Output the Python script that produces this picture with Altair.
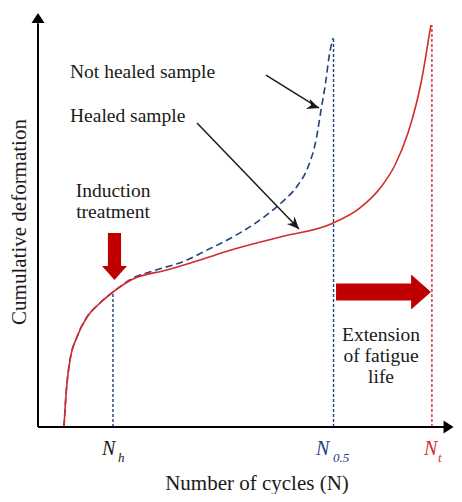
import altair as alt
import pandas as pd

# ---- data (x: number of cycles, y: cumulative deformation; schematic units 0-100) ----
healed_x = [6.13, 6.37, 6.60, 6.84, 7.55, 9.20, 11.56, 14.62, 17.69, 22.41, 30.42, 38.21,
            45.52, 57.08, 69.10, 75.94, 80.90, 84.20, 87.26, 89.15, 90.33, 91.51, 92.22, 92.69]
healed_y = [0.0, 4.11, 7.73, 10.63, 16.18, 21.74, 26.57, 29.95, 32.61, 35.75, 37.92, 40.34,
            42.75, 45.89, 49.03, 52.90, 57.97, 63.29, 71.01, 77.78, 83.09, 89.86, 94.44, 97.10]

not_healed_x = [6.13, 6.37, 6.60, 6.84, 7.55, 9.20, 11.56, 14.62, 17.69, 22.41, 27.12, 35.14,
                38.92, 45.52, 53.30, 57.31, 61.32, 63.68, 65.57, 66.75, 67.92, 68.63, 69.58]
not_healed_y = [0.0, 4.11, 7.73, 10.63, 16.18, 21.74, 26.57, 29.95, 32.61, 35.99, 37.68, 40.34,
                42.27, 45.65, 50.72, 54.11, 58.45, 62.80, 69.32, 76.57, 83.82, 89.37, 93.96]

# characteristic cycle numbers and the deformation reached there
n_h, n_h_def = 17.69, 32.61
n_05, n_05_def = 69.70, 93.96
n_t, n_t_def = 92.90, 97.10

# annotation texts
label_not_healed = "Not healed sample"
label_healed = "Healed sample"
induction_lines = ["Induction", "treatment"]
extension_lines = ["Extension", "of fatigue", "life"]
x_title = "Number of cycles (N)"
y_title = "Cumulative deformation"

RED = "#d42b2b"
DARK_RED = "#c00000"
BLUE = "#22407e"
INK = "#1a1a1a"
SERIF = "Liberation Serif"

X_MAX = 98.11
xs = alt.Scale(domain=[0, X_MAX], nice=False, zero=False)
ys = alt.Scale(domain=[0, 100], nice=False, zero=False)
cscale = alt.Scale(domain=["k", "b", "r"], range=[INK, BLUE, RED])


def X(f="x"):
    return alt.X(f"{f}:Q", scale=xs, axis=None)


def Y(f="y"):
    return alt.Y(f"{f}:Q", scale=ys, axis=None)


def C():
    return alt.Color("c:N", scale=cscale, legend=None)


healed_df = pd.DataFrame({"x": healed_x, "y": healed_y})
not_healed_df = pd.DataFrame({"x": not_healed_x, "y": not_healed_y})

healed = alt.Chart(healed_df).mark_line(color=RED, strokeWidth=1.6, interpolate="monotone").encode(
    x=X(), y=Y(), order="x:Q")
not_healed = alt.Chart(not_healed_df).mark_line(
    color=BLUE, strokeWidth=1.6, strokeDash=[7, 4], interpolate="monotone").encode(
    x=X(), y=Y(), order="x:Q")

vlines_df = pd.DataFrame({
    "x": [n_h, n_05, n_t], "y": [0, 0, 0], "y2": [n_h_def, n_05_def, n_t_def],
    "c": ["b", "b", "r"]})
vlines = alt.Chart(vlines_df).mark_rule(strokeWidth=1.4, strokeDash=[3, 2]).encode(
    x=X(), y=Y(), y2="y2:Q", color=C())

# axes with arrowheads
axes_df = pd.DataFrame({"x": [0, 0], "y": [0, 0], "x2": [0, 96.0], "y2": [97.5, 0]})
axes = alt.Chart(axes_df).mark_rule(color="black", strokeWidth=2).encode(
    x=X(), y=Y(), x2="x2:Q", y2="y2:Q")
up_head = alt.Chart(pd.DataFrame({"x": [0], "y": [100]})).mark_point(
    shape="M0,0L-0.65,1L0.65,1Z", size=400, filled=True, color="black", opacity=1, strokeWidth=0
).encode(x=X(), y=Y())
right_head = alt.Chart(pd.DataFrame({"x": [98.0], "y": [0]})).mark_point(
    shape="M0,0L-1,-0.65L-1,0.65Z", size=400, filled=True, color="black", opacity=1, strokeWidth=0
).encode(x=X(), y=Y())

# red block arrows
down_arrow = alt.Chart(pd.DataFrame({"x": [18.04], "y": [41.18]})).mark_point(
    shape="M-0.28,-1L0.28,-1L0.28,0.4L0.53,0.4L0,1L-0.53,0.4L-0.28,0.4Z",
    size=2209, filled=True, color=DARK_RED, opacity=1, strokeWidth=0).encode(x=X(), y=Y())
right_arrow = alt.Chart(pd.DataFrame({"x": [81.49], "y": [32.61]})).mark_point(
    shape="M-1,-0.18L0.58,-0.18L0.58,-0.37L1,0L0.58,0.37L0.58,0.18L-1,0.18Z",
    size=9025, filled=True, color=DARK_RED, opacity=1, strokeWidth=0).encode(x=X(), y=Y())

# pointer arrows from labels to curves
ptr_df = pd.DataFrame({"x": [53.77, 37.50], "y": [85.02, 73.43],
                       "x2": [66.27, 61.56], "y2": [77.05, 47.83], "ang": [20, 46]})
ptr_lines = alt.Chart(ptr_df).mark_rule(color=INK, strokeWidth=1.5).encode(
    x=X(), y=Y(), x2="x2:Q", y2="y2:Q")
ptr_heads = alt.Chart(ptr_df).mark_point(
    shape="M0,0L-1,-0.45L-0.7,0L-1,0.45Z", size=576, filled=True, color=INK, opacity=1,
    strokeWidth=0).encode(x=X("x2"), y=Y("y2"), angle=alt.Angle("ang:Q", scale=None))

# annotation texts
left_txt_df = pd.DataFrame({"x": [7.55, 7.55], "y": [84.30, 73.67],
                            "t": [label_not_healed, label_healed]})
left_txt = alt.Chart(left_txt_df).mark_text(
    font=SERIF, fontSize=19.5, align="left", baseline="alphabetic", color=INK).encode(
    x=X(), y=Y(), text="t:N")
ind_df = pd.DataFrame({"x": [17.69, 17.69], "y": [55.56, 50.48], "t": induction_lines})
ind_txt = alt.Chart(ind_df).mark_text(
    font=SERIF, fontSize=19.5, align="center", baseline="alphabetic", color=INK).encode(
    x=X(), y=Y(), text="t:N")
ext_df = pd.DataFrame({"x": [80.90, 80.90, 80.90], "y": [20.77, 15.70, 10.63], "t": extension_lines})
ext_txt = alt.Chart(ext_df).mark_text(
    font=SERIF, fontSize=19.5, align="center", baseline="alphabetic", color=INK).encode(
    x=X(), y=Y(), text="t:N")

# tick-like labels N_h, N_0.5, N_t
nlab_df = pd.DataFrame({"x": [15.09, 65.57, 91.04], "y": [-6.76, -6.76, -6.76],
                        "t": ["N", "N", "N"], "c": ["k", "b", "r"]})
sub_df = pd.DataFrame({"x": [18.87, 69.58, 94.34], "y": [-8.45, -8.45, -8.45],
                       "t": ["h", "0.5", "t"], "c": ["k", "b", "r"]})
nlab = alt.Chart(nlab_df).mark_text(
    font=SERIF, fontSize=20, fontStyle="italic", align="left", baseline="alphabetic").encode(
    x=X(), y=Y(), text="t:N", color=C())
sublab = alt.Chart(sub_df).mark_text(
    font=SERIF, fontSize=13, fontStyle="italic", align="left", baseline="alphabetic").encode(
    x=X(), y=Y(), text="t:N", color=C())

# axis titles
xt = alt.Chart(pd.DataFrame({"x": [51.65], "y": [-15.22], "t": [x_title]})).mark_text(
    font=SERIF, fontSize=21, align="center", baseline="alphabetic", color=INK).encode(
    x=X(), y=Y(), text="t:N")
yt = alt.Chart(pd.DataFrame({"x": [-4.36], "y": [49.52], "t": [y_title]})).mark_text(
    font=SERIF, fontSize=21, align="center", baseline="middle", angle=270, color=INK).encode(
    x=X(), y=Y(), text="t:N")

chart = alt.layer(
    vlines, not_healed, healed, axes, up_head, right_head, down_arrow, right_arrow,
    ptr_lines, ptr_heads, left_txt, ind_txt, ext_txt, nlab, sublab, xt, yt
).properties(
    width=416, height=414,
    padding={"left": 30, "top": 5, "right": 0, "bottom": 67},
    autosize=alt.AutoSizeParams(type="none"),
    background="white",
).configure_view(stroke=None)

chart.save("out.html", embed_options={"renderer": "svg", "actions": False})
